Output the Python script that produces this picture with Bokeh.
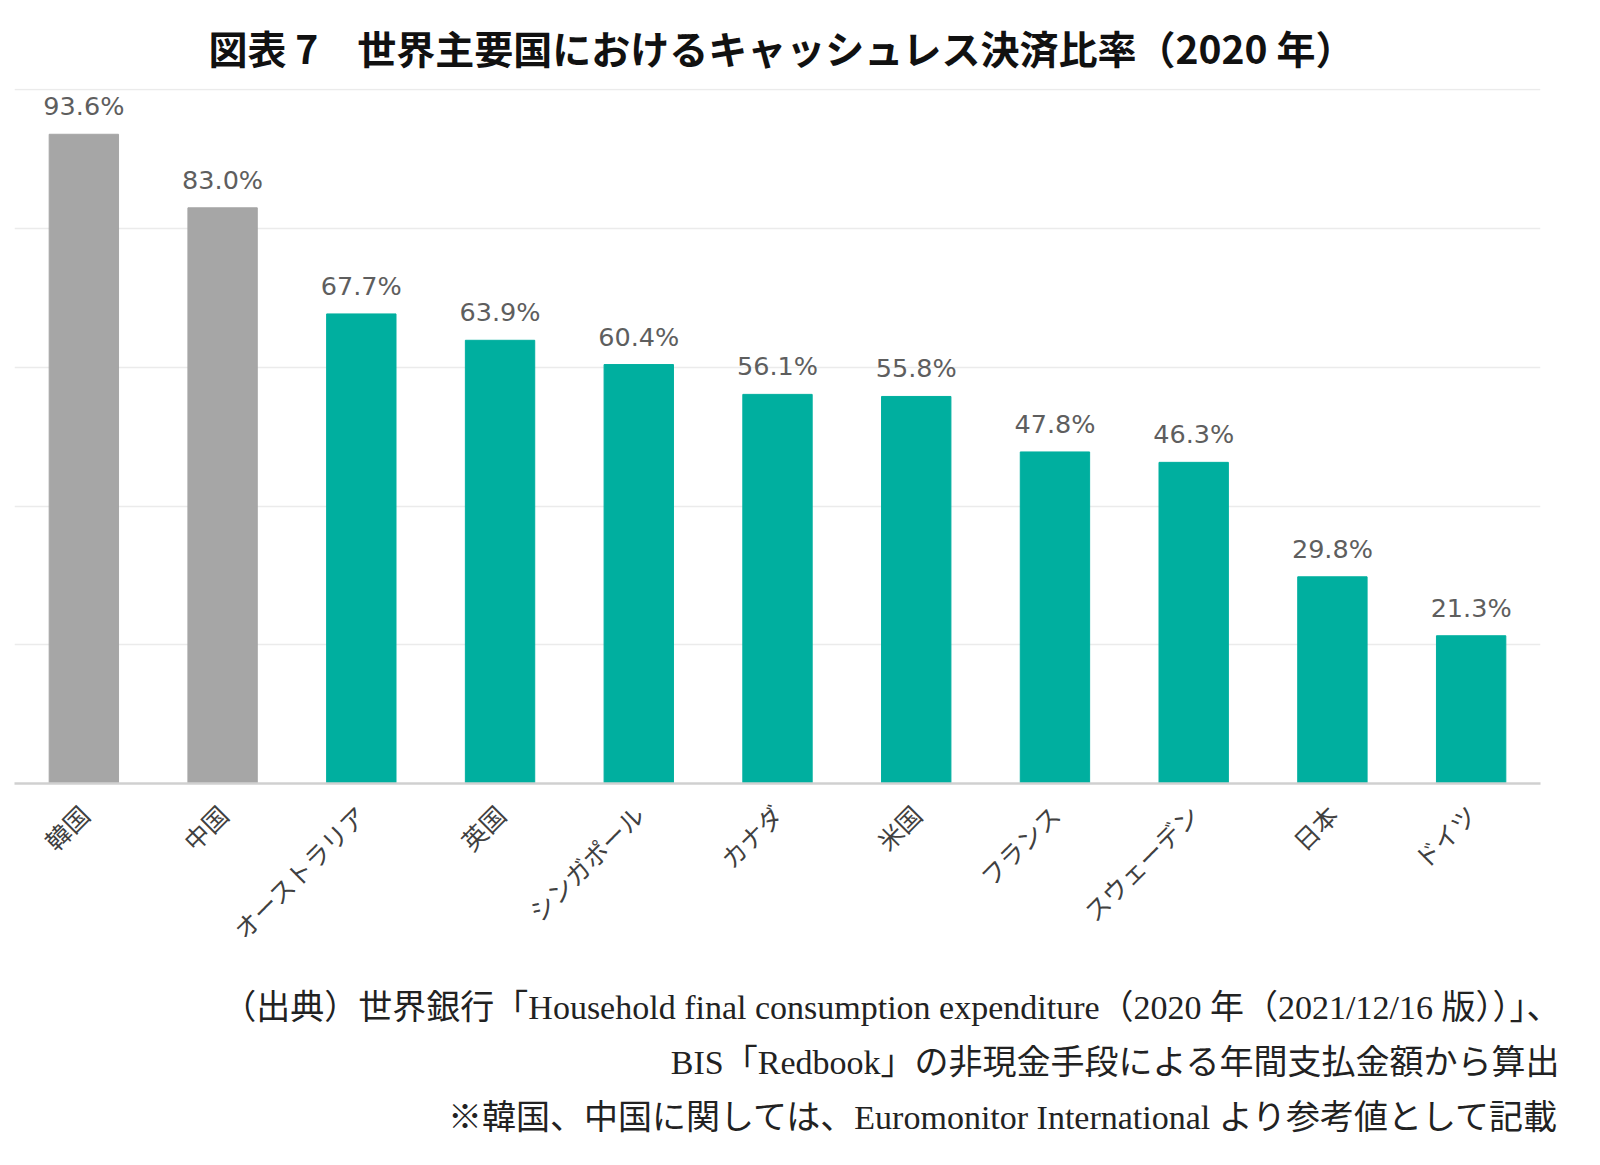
import math
from bokeh.plotting import figure
from bokeh.models import ColumnDataSource, Range1d, FactorRange, Title
from bokeh.core.properties import value
from bokeh.embed import file_html
from bokeh.resources import INLINE

countries = ["韓国", "中国", "オーストラリア", "英国", "シンガポール", "カナダ",
             "米国", "フランス", "スウェーデン", "日本", "ドイツ"]
ratios = [93.6, 83.0, 67.7, 63.9, 60.4, 56.1, 55.8, 47.8, 46.3, 29.8, 21.3]
reference_only = [True, True, False, False, False, False, False, False, False, False, False]

title_text = "図表 7　世界主要国におけるキャッシュレス決済比率（2020 年）"
footer_lines = [
    "（出典）世界銀行「Household final consumption expenditure（2020 年（2021/12/16 版））」、",
    "BIS「Redbook」の非現金手段による年間支払金額から算出",
    "※韓国、中国に関しては、Euromonitor International より参考値として記載",
]

GRAY = "#a6a6a6"
TEAL = "#00af9f"
colors = [GRAY if r else TEAL for r in reference_only]
labels = [f"{v:.1f}%" for v in ratios]

src = ColumnDataSource(dict(x=countries, top=ratios, color=colors, label=labels))

W, H = 1584, 1149
p = figure(width=W, height=H, output_backend="svg", toolbar_location=None,
           x_range=FactorRange(*countries, range_padding=0),
           y_range=Range1d(0, 100.2),
           min_border_left=14, min_border_right=44, min_border_top=88, min_border_bottom=366)
p.outline_line_color = None
p.background_fill_color = "white"
p.border_fill_color = "white"

p.vbar(x="x", top="top", width=0.5, color="color", source=src)

p.text(x="x", y="top", text="label", source=src, text_align="center",
       text_baseline="bottom", y_offset=-13, text_font=value("DejaVu Sans"),
       text_font_size="25.5px", text_color="#5e5e5e")

p.yaxis.visible = False
p.ygrid.ticker = [0, 20, 40, 60, 80, 100]
p.ygrid.grid_line_color = "#ebebeb"
p.ygrid.grid_line_width = 1.5
p.xgrid.grid_line_color = None

xa = p.xaxis[0]
xa.axis_line_color = "#d0d0d0"
xa.axis_line_width = 2.5
xa.major_tick_line_color = None
xa.minor_tick_line_color = None
xa.major_label_orientation = math.pi / 4
xa.major_label_text_font = "Noto Sans CJK JP"
xa.major_label_text_font_size = "25px"
xa.major_label_text_color = "#404040"
xa.major_label_standoff = 20

# title
p.title = Title(text=title_text, align="left", offset=194, text_font="Noto Sans CJK JP",
                text_font_style="bold", text_font_size="39px", text_color="#111111",
                standoff=28)

# footer (first a small spacer below the axis labels)
p.add_layout(Title(text=" ", text_font_size="10px", standoff=4), "below")
for t in footer_lines:
    p.add_layout(Title(text=t, align="right", offset=-20,
                       text_font="Liberation Serif, Noto Sans CJK JP",
                       text_font_style="normal", text_font_size="34px",
                       text_color="#222222", standoff=16), "below")

open("out.html", "w").write(file_html(p, INLINE))
